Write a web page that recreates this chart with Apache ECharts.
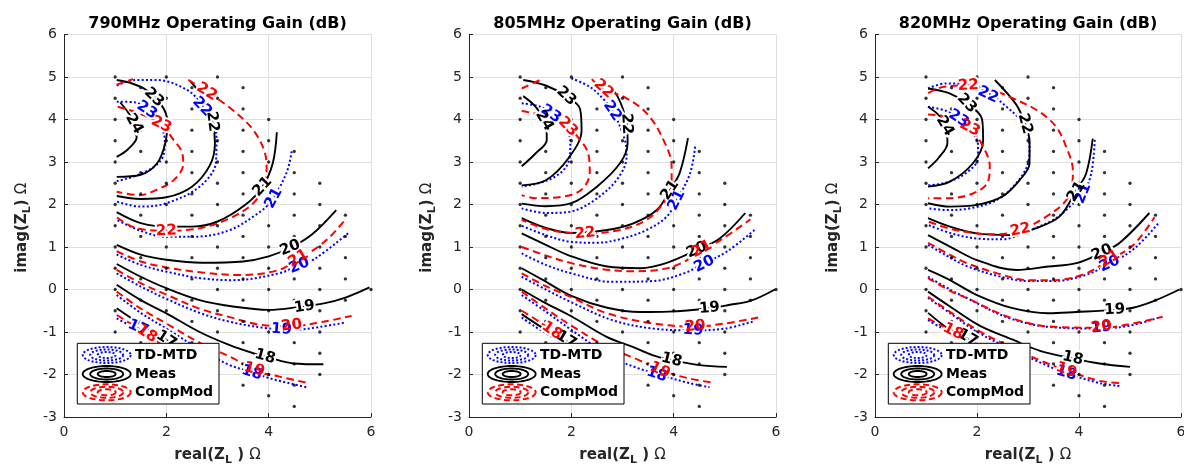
<!DOCTYPE html>
<html><head><meta charset="utf-8">
<script src="https://cdn.jsdelivr.net/npm/echarts@6.0.0/dist/echarts.min.js"></script>
<style>html,body{margin:0;padding:0;background:#fff}#c{width:1184px;height:467px}</style>
</head><body><div id="c"></div>
<script>
// ---------------- DATA ----------------
const titles = ['790MHz Operating Gain (dB)', '805MHz Operating Gain (dB)', '820MHz Operating Gain (dB)'];
const legendNames = ['TD-MTD', 'Meas', 'CompMod'];

// measurement load points: [real, [imag values]]
const dotColumns = [
  [1.0, [5, 4.5, 4, 3.5, 3, 2.5, 2, 1.5, 1, 0.5, 0, -0.5, -1]],
  [1.5, [4.75, 4.25, 3.75, 3.25, 2.75, 2.25, 1.75, 1.25, 0.75, 0.25, -0.25, -0.75, -1.25]],
  [2.0, [5, 4.5, 4, 3.5, 3, 2.5, 2, 1.5, 1, 0.5, 0, -0.5, -1, -1.5]],
  [2.5, [4.75, 4.25, 3.75, 3.25, 2.75, 2.25, 1.75, 1.25, 0.75, 0.25, -0.25, -0.75, -1.25, -1.75]],
  [3.0, [5, 4.5, 4, 3.5, 3, 2.5, 2, 1.5, 1, 0.5, 0, -0.5, -1, -1.5, -2]],
  [3.5, [4.75, 4.25, 3.75, 3.25, 2.75, 2.25, 1.75, 1.25, 0.75, 0.25, -0.25, -0.75, -1.25, -1.75, -2.25]],
  [4.0, [4, 3.5, 3, 2.5, 2, 1.5, 1, 0.5, 0, -0.5, -1, -1.5, -2, -2.5]],
  [4.5, [3.25, 2.75, 2.25, 1.75, 1.25, 0.75, 0.25, -0.25, -0.75, -1.25, -1.75, -2.25, -2.75]],
  [5.0, [2.5, 2, 1.5, 1, 0.5, 0, -0.5, -1, -1.5, -2]],
  [5.5, [1.75, 1.25, 0.75, 0.25, -0.25]],
  [6.0, [0]]
];

// contour entries: [level, points, label points]
// ---- 790 MHz ----
const meas790 = [
  [24, [[1.03,3.12],[1.25,3.3],[1.42,3.58],[1.38,3.9],[1.25,4.17],[1.1,4.4]], [[1.37,3.9]]],
  [23, [[1.03,2.65],[1.5,2.7],[1.82,2.97],[1.98,3.45],[2.02,3.95],[1.9,4.35],[1.6,4.7],[1.3,4.86],[1.03,4.93]], [[1.76,4.52]]],
  [22, [[1.03,2.2],[1.5,2.13],[2.0,2.17],[2.5,2.42],[2.85,2.92],[2.95,3.45],[2.9,3.95],[2.72,4.5],[2.47,4.9]], [[2.9,3.95]]],
  [21, [[1.03,1.82],[1.5,1.56],[2.0,1.48],[2.5,1.48],[3.0,1.6],[3.55,2.0],[3.88,2.42],[4.08,2.97],[4.16,3.7]], [[3.88,2.42]]],
  [20, [[1.03,1.05],[1.5,0.82],[2.0,0.7],[2.7,0.63],[3.5,0.66],[4.0,0.78],[4.45,1.0],[4.85,1.3],[5.32,1.87]], [[4.42,0.98]]],
  [19, [[1.03,0.6],[1.5,0.3],[2.0,0.03],[2.65,-0.25],[3.3,-0.4],[4.0,-0.48],[4.6,-0.41],[5.1,-0.32],[5.5,-0.19],[5.97,0.05]], [[4.7,-0.41]]],
  [18, [[1.03,0.11],[1.5,-0.25],[2.0,-0.56],[2.65,-1.0],[3.24,-1.31],[3.7,-1.5],[4.0,-1.6],[4.48,-1.74],[5.07,-1.76]], [[3.93,-1.58]]],
  [17, [[1.03,-0.44],[1.5,-0.82],[1.95,-1.15],[2.4,-1.5],[2.8,-1.85]], [[2.0,-1.18]]]
];
const td790 = [
  [23, [[1.03,4.42],[1.4,4.4],[1.65,4.2],[1.85,3.95],[1.97,3.5],[1.9,3.05],[1.5,2.72],[1.03,2.55]], [[1.62,4.22]]],
  [22, [[1.03,4.8],[1.4,4.93],[1.8,4.93],[2.4,4.7],[2.72,4.3],[2.98,3.6],[2.97,3.0],[2.65,2.42],[2.0,2.03],[1.5,1.95],[1.03,2.07]], [[2.7,4.3]]],
  [21, [[4.45,3.25],[4.35,2.75],[4.06,2.1],[3.8,1.8],[3.2,1.38],[2.5,1.24],[2.0,1.24],[1.5,1.38],[1.03,1.64]], [[4.1,2.15]]],
  [20, [[1.03,0.82],[1.5,0.58],[2.0,0.42],[2.7,0.26],[3.3,0.22],[4.2,0.38],[4.6,0.58],[4.9,0.72],[5.58,1.35]], [[4.6,0.56]]],
  [19, [[1.03,0.38],[1.5,0.07],[2.0,-0.22],[2.65,-0.55],[3.24,-0.76],[3.96,-0.91],[4.5,-0.95],[5.0,-0.88],[5.49,-0.78]], [[4.25,-0.94]]],
  [18, [[1.03,-0.13],[1.5,-0.55],[2.0,-0.92],[2.65,-1.4],[3.24,-1.78],[3.7,-1.95],[4.02,-2.09],[4.74,-2.3]], [[3.67,-1.96]]],
  [17, [[1.03,-0.68],[1.25,-0.82],[1.5,-0.95],[1.8,-1.2],[2.2,-1.55]], [[1.45,-0.9]]]
];
const cm790 = [
  [23, [[1.05,4.3],[1.45,4.15],[1.9,3.88],[2.14,3.52],[2.3,3.25],[2.33,2.95],[2.15,2.58],[1.8,2.34],[1.48,2.22],[1.03,2.3]], [[1.9,3.88]]],
  [22, [[1.03,4.82],[1.35,4.95]], []],
  [22, [[2.43,4.93],[2.8,4.65],[3.3,4.22],[3.7,3.75],[3.93,3.2],[3.96,2.8],[3.9,2.42],[3.7,2.03],[3.3,1.71],[2.8,1.48],[2.4,1.4],[2.0,1.38],[1.4,1.45],[1.03,1.7]], [[2.79,4.65],[2.0,1.38]]],
  [21, [[1.03,0.9],[1.5,0.66],[2.0,0.52],[2.7,0.4],[3.47,0.34],[4.2,0.46],[4.58,0.72],[4.9,0.95],[5.2,1.24],[5.5,1.65]], [[4.58,0.73]]],
  [20, [[1.03,0.46],[1.5,0.15],[2.0,-0.12],[2.65,-0.45],[3.24,-0.65],[3.9,-0.84],[4.45,-0.86],[5.07,-0.76],[5.62,-0.62]], [[4.45,-0.85]]],
  [19, [[1.03,-0.05],[1.5,-0.45],[2.0,-0.8],[2.65,-1.25],[3.31,-1.62],[3.7,-1.9],[4.21,-2.05],[4.8,-2.21]], [[3.72,-1.88]]],
  [18, [[1.03,-0.6],[1.3,-0.8],[1.6,-1.03],[2.0,-1.35],[2.5,-1.7]], [[1.62,-1.04]]]
];

// ---- 805 MHz ----
const meas805 = [
  [24, [[1.03,2.9],[1.3,3.2],[1.52,3.52],[1.5,3.9],[1.3,4.3],[1.06,4.55]], [[1.47,3.97]]],
  [23, [[1.03,2.45],[1.5,2.57],[1.95,3.1],[2.2,3.75],[2.17,4.25],[1.9,4.55],[1.5,4.8],[1.06,4.93]], [[1.9,4.55]]],
  [22, [[1.03,2.02],[1.5,1.96],[2.0,2.03],[2.5,2.42],[2.95,2.97],[3.1,3.45],[3.08,3.9],[2.9,4.55],[2.62,4.93]], [[3.08,3.9]]],
  [21, [[1.03,1.68],[1.5,1.45],[2.0,1.33],[2.7,1.4],[3.2,1.55],[3.67,1.87],[3.93,2.34],[4.12,2.75],[4.28,3.56]], [[3.93,2.34]]],
  [20, [[1.03,1.32],[1.45,1.08],[2.0,0.78],[2.7,0.54],[3.35,0.5],[3.85,0.62],[4.45,0.93],[4.9,1.2],[5.4,1.8]], [[4.45,0.93]]],
  [19, [[1.03,0.5],[1.45,0.22],[2.0,-0.15],[2.7,-0.43],[3.35,-0.53],[3.9,-0.52],[4.7,-0.44],[5.1,-0.36],[5.5,-0.27],[5.98,0.0]], [[4.7,-0.44]]],
  [18, [[1.03,0.0],[1.45,-0.29],[2.0,-0.63],[2.7,-1.12],[3.2,-1.35],[3.6,-1.55],[3.96,-1.66],[4.5,-1.78],[5.04,-1.82]], [[3.96,-1.66]]],
  [17, [[1.03,-0.58],[1.5,-0.95],[1.85,-1.17],[2.3,-1.5],[2.8,-1.85]], [[1.9,-1.18]]]
];
const td805 = [
  [23, [[1.03,4.38],[1.4,4.3],[1.62,4.12],[1.88,3.8],[1.98,3.5],[1.97,3.13],[1.84,2.8],[1.5,2.55],[1.03,2.42]], [[1.6,4.13]]],
  [22, [[2.0,4.97],[2.36,4.77],[2.65,4.45],[2.85,4.1],[3.05,3.5],[3.08,3.13],[2.9,2.6],[2.45,2.1],[1.97,1.83],[1.5,1.8],[1.03,1.91]], [[2.8,4.2]]],
  [21, [[4.42,3.36],[4.32,2.73],[4.06,2.1],[3.86,1.71],[3.47,1.4],[3.0,1.2],[2.5,1.1],[2.0,1.12],[1.5,1.28],[1.03,1.5]], [[4.06,2.1]]],
  [20, [[1.03,0.85],[1.5,0.58],[2.0,0.38],[2.8,0.18],[3.6,0.2],[4.2,0.38],[4.6,0.62],[5.05,0.9],[5.58,1.4]], [[4.6,0.6]]],
  [19, [[1.03,0.3],[1.5,0.0],[2.0,-0.3],[2.8,-0.72],[3.6,-0.92],[4.4,-0.96],[5.0,-0.92],[5.56,-0.75]], [[4.38,-0.96]]],
  [18, [[1.03,-0.13],[1.5,-0.52],[2.0,-0.95],[2.8,-1.6],[3.3,-1.85],[3.7,-2.0],[4.3,-2.2],[4.7,-2.3]], [[3.67,-2.0]]],
  [17, [[1.03,-0.66],[1.3,-0.88],[1.6,-1.1],[2.0,-1.4],[2.4,-1.75]], []]
];
const cm805 = [
  [23, [[1.03,4.2],[1.4,4.1],[1.9,3.85],[2.17,3.52],[2.33,3.2],[2.36,2.75],[2.2,2.35],[1.8,2.18],[1.3,2.15],[1.03,2.22]], [[1.93,3.83]]],
  [22, [[1.03,4.73],[1.39,4.93]], []],
  [22, [[2.4,4.95],[2.63,4.7],[3.02,4.54],[3.47,4.15],[3.8,3.52],[3.96,2.89],[3.96,2.42],[3.8,2.03],[3.47,1.64],[2.95,1.4],[2.27,1.32],[1.58,1.4],[1.03,1.64]], [[2.63,4.72],[2.27,1.32]]],
  [21, [[1.03,1.0],[1.5,0.8],[2.0,0.62],[2.6,0.48],[3.2,0.43],[3.8,0.48],[4.2,0.65],[4.55,0.92],[4.9,1.15],[5.5,1.65]], [[4.55,0.95]]],
  [20, [[1.03,0.38],[1.5,0.08],[2.0,-0.18],[2.7,-0.56],[3.6,-0.8],[4.4,-0.87],[5.0,-0.8],[5.65,-0.66]], [[4.42,-0.87]]],
  [19, [[1.03,-0.05],[1.5,-0.45],[2.0,-0.85],[2.7,-1.35],[3.3,-1.65],[3.75,-1.9],[4.25,-2.08],[4.8,-2.2]], [[3.73,-1.9]]],
  [18, [[1.03,-0.5],[1.3,-0.7],[1.62,-0.97],[2.0,-1.3],[2.5,-1.7]], [[1.62,-0.97]]]
];

// ---- 820 MHz ----
const meas820 = [
  [24, [[1.04,2.85],[1.25,3.1],[1.42,3.45],[1.4,3.8],[1.25,4.1],[1.04,4.3]], [[1.37,3.85]]],
  [23, [[1.04,2.42],[1.47,2.54],[1.92,2.97],[2.12,3.5],[2.1,4.0],[1.8,4.38],[1.45,4.62],[1.04,4.73]], [[1.8,4.38]]],
  [22, [[1.04,2.03],[1.47,1.95],[2.0,1.99],[2.5,2.19],[2.84,2.58],[3.03,2.97],[3.03,3.5],[2.94,3.9],[2.77,4.35],[2.35,4.93]], [[2.94,3.9]]],
  [21, [[1.04,1.68],[1.47,1.48],[2.0,1.32],[2.65,1.28],[3.15,1.44],[3.62,1.72],[3.95,2.34],[4.14,2.73],[4.27,3.55]], [[3.95,2.3]]],
  [20, [[1.04,1.28],[1.47,1.01],[2.0,0.69],[2.77,0.46],[3.4,0.54],[3.95,0.62],[4.45,0.87],[4.8,1.1],[5.38,1.8]], [[4.45,0.87]]],
  [19, [[1.04,0.46],[1.47,0.22],[2.0,-0.13],[2.7,-0.44],[3.4,-0.56],[3.95,-0.53],[4.7,-0.48],[5.06,-0.43],[5.45,-0.28],[5.97,0.0]], [[4.7,-0.48]]],
  [18, [[1.04,-0.05],[1.47,-0.4],[2.05,-0.85],[2.7,-1.18],[3.25,-1.45],[3.88,-1.62],[4.4,-1.74],[5.0,-1.82]], [[3.88,-1.62]]],
  [17, [[1.04,-0.55],[1.47,-0.95],[1.8,-1.15],[2.3,-1.5],[2.8,-1.85]], [[1.82,-1.14]]]
];
const td820 = [
  [23, [[1.04,4.3],[1.4,4.2],[1.66,4.0],[1.9,3.7],[2.02,3.4],[2.02,3.1],[1.8,2.75],[1.4,2.52],[1.04,2.45]], [[1.64,4.02]]],
  [22, [[1.04,4.73],[1.4,4.85],[1.8,4.85],[2.25,4.6],[2.58,4.3],[2.9,3.9],[3.03,3.36],[3.0,2.97],[2.77,2.5],[2.38,2.1],[1.86,1.91],[1.4,1.87],[1.04,1.91]], [[2.22,4.58]]],
  [21, [[4.31,3.52],[4.24,2.73],[4.08,2.26],[3.82,1.95],[3.5,1.64],[3.0,1.38],[2.5,1.18],[2.0,1.2],[1.5,1.32],[1.04,1.52]], [[4.08,2.26]]],
  [20, [[1.04,1.05],[1.4,0.8],[1.8,0.55],[2.4,0.32],[3.0,0.2],[3.5,0.2],[4.1,0.33],[4.6,0.6],[5.1,0.98],[5.55,1.55]], [[4.6,0.6]]],
  [19, [[1.04,0.3],[1.5,-0.02],[1.8,-0.2],[2.6,-0.66],[3.4,-0.88],[4.4,-0.92],[5.0,-0.85],[5.6,-0.65]], [[4.44,-0.9]]],
  [18, [[1.04,-0.2],[1.5,-0.58],[2.0,-1.0],[2.7,-1.42],[3.3,-1.75],[3.7,-1.95],[4.4,-2.2],[4.8,-2.27]], [[3.75,-1.97]]],
  [17, [[1.04,-0.72],[1.3,-0.9],[1.55,-1.05],[2.0,-1.4],[2.5,-1.75]], []]
];
const cm820 = [
  [23, [[1.04,4.12],[1.45,4.05],[1.86,3.8],[2.12,3.36],[2.25,2.9],[2.2,2.5],[1.92,2.26],[1.47,2.15],[1.04,2.15]], [[1.86,3.8]]],
  [22, [[1.04,4.62],[1.35,4.77],[1.83,4.8],[2.2,4.73],[2.7,4.5],[3.2,4.2],[3.55,3.83],[3.75,3.35],[3.88,2.8],[3.85,2.35],[3.7,2.03],[3.35,1.71],[2.9,1.42],[2.4,1.3],[2.0,1.32],[1.5,1.42],[1.04,1.6]], [[1.83,4.8],[2.85,1.4]]],
  [21, [[1.04,1.1],[1.4,0.86],[1.8,0.62],[2.4,0.38],[3.0,0.22],[3.5,0.22],[4.1,0.36],[4.6,0.7],[5.06,1.04],[5.48,1.7]], [[4.6,0.72]]],
  [20, [[1.04,0.27],[1.5,-0.05],[1.8,-0.2],[2.6,-0.64],[3.4,-0.87],[4.44,-0.9],[5.06,-0.8],[5.64,-0.64]], [[4.44,-0.88]]],
  [19, [[1.04,-0.17],[1.5,-0.55],[2.0,-0.95],[2.7,-1.38],[3.3,-1.7],[3.75,-1.9],[4.4,-2.15],[4.85,-2.2]], [[3.75,-1.9]]],
  [18, [[1.04,-0.68],[1.3,-0.85],[1.55,-1.0],[2.0,-1.35],[2.5,-1.7]], [[1.53,-0.99]]]
];

// ---------------- LAYOUT / STYLE ----------------
const panels = [
  {td: td790, meas: meas790, cm: cm790},
  {td: td805, meas: meas805, cm: cm805},
  {td: td820, meas: meas820, cm: cm820}
];
const G = [{l: 64, w: 307}, {l: 469, w: 307}, {l: 875, w: 306}];
const TOP = 34.5, H = 382.5;
const FONT = 'DejaVu Sans';
const AX = '#262626';
const models = ['td', 'meas', 'cm'];
const sty = {
  td: {color: '#0000ff', width: 2, type: [2, 2.3]},
  meas: {color: '#000000', width: 1.9, type: 'solid'},
  cm: {color: '#ff0000', width: 2, type: [7.5, 4.5]}
};
const LABEL_SIZE = 15;

const chart = echarts.init(document.getElementById('c'), null, {renderer: 'canvas'});

const grids = [], xAxes = [], yAxes = [], series = [], graphics = [];
const dots = [];
dotColumns.forEach(c => c[1].forEach(y => dots.push([c[0], y])));

G.forEach((g, p) => {
  grids.push({left: g.l, top: TOP, width: g.w, height: H, containLabel: false, outerBoundsMode: 'none'});
  xAxes.push({gridIndex: p, type: 'value', min: 0, max: 6, interval: 2,
    axisLine: {show: true, onZero: false, lineStyle: {color: AX, width: 1}},
    axisTick: {show: true, inside: true, length: 4, lineStyle: {color: AX}},
    axisLabel: {color: AX, fontSize: 14, fontFamily: FONT, margin: 8},
    splitLine: {show: true, lineStyle: {color: '#dfdfdf', width: 1}}});
  yAxes.push({gridIndex: p, type: 'value', min: -3, max: 6, interval: 1,
    axisLine: {show: true, onZero: false, lineStyle: {color: AX, width: 1}},
    axisTick: {show: true, inside: true, length: 4, lineStyle: {color: AX}},
    axisLabel: {color: AX, fontSize: 14, fontFamily: FONT, margin: 7},
    splitLine: {show: true, lineStyle: {color: '#dfdfdf', width: 1}}});

  models.forEach(m => {
    panels[p][m].forEach((c, k) => {
      series.push({type: 'line', id: `l-${p}-${m}-${k}`, xAxisIndex: p, yAxisIndex: p, data: c[1],
        symbol: 'none', showSymbol: false, smooth: 0.35, silent: true, z: 2,
        lineStyle: {color: sty[m].color, width: sty[m].width, type: sty[m].type}});
    });
  });
  series.push({type: 'scatter', xAxisIndex: p, yAxisIndex: p, data: dots, symbol: 'circle', symbolSize: 3.3,
    itemStyle: {color: '#000'}, silent: true, z: 3});

  const cx = g.l + g.w / 2;
  graphics.push({type: 'text', x: cx, y: 24, style: {text: titles[p], font: `bold 16px "${FONT}"`, fill: '#000',
    align: 'center', verticalAlign: 'middle', textAlign: 'center', textVerticalAlign: 'middle'}});
  graphics.push({type: 'text', x: cx, y: 455, style: {
    text: '{b|real(Z}{s|L}{b| ) }{o|Ω}', align: 'center', verticalAlign: 'middle', textAlign: 'center', textVerticalAlign: 'middle',
    rich: {
      b: {fontFamily: FONT, fontSize: 15, fontWeight: 'bold', fill: AX, color: AX, lineHeight: 22, verticalAlign: 'middle'},
      s: {fontFamily: FONT, fontSize: 11, fontWeight: 'bold', fill: AX, color: AX, lineHeight: 11, verticalAlign: 'bottom'},
      o: {fontFamily: FONT, fontSize: 15, fill: AX, color: AX, lineHeight: 22, verticalAlign: 'middle'}
    }}});
  graphics.push({type: 'text', x: g.l - 42, y: TOP + H / 2 + 2, rotation: Math.PI / 2, style: {
    text: '{b|imag(Z}{s|L}{b|) }{o|Ω}', align: 'center', verticalAlign: 'middle', textAlign: 'center', textVerticalAlign: 'middle',
    rich: {
      b: {fontFamily: FONT, fontSize: 15, fontWeight: 'bold', fill: AX, color: AX, lineHeight: 22, verticalAlign: 'middle'},
      s: {fontFamily: FONT, fontSize: 11, fontWeight: 'bold', fill: AX, color: AX, lineHeight: 11, verticalAlign: 'bottom'},
      o: {fontFamily: FONT, fontSize: 15, fill: AX, color: AX, lineHeight: 22, verticalAlign: 'middle'}
    }}});

  // legend box
  const L = g.l + 13.3, T = 343.3, W = 141.7, HH = 60.7;
  graphics.push({type: 'rect', z: 50, shape: {x: L, y: T, width: W, height: HH}, style: {fill: '#fff', stroke: '#000', lineWidth: 1}});
  const rowsY = [11.7, 30.7, 49];
  const rings = [[24, 8], [16.5, 5.5], [9, 3]];
  models.forEach((m, r) => {
    const icx = L + 29.4, icy = T + rowsY[r];
    rings.forEach(rr => {
      const pts = [];
      for (let a = 0; a <= 64; a++) {
        const t = a / 64 * Math.PI * 2;
        pts.push([icx + rr[0] * Math.cos(t), icy + rr[1] * Math.sin(t)]);
      }
      graphics.push({type: 'polyline', z: 51, shape: {points: pts}, style: {fill: null, stroke: sty[m].color,
        lineWidth: m === 'meas' ? 1.9 : 2, lineDash: m === 'td' ? [2, 2] : (m === 'cm' ? [6, 3.5] : null)}});
    });
    graphics.push({type: 'text', z: 52, x: L + 57.7, y: icy, style: {text: legendNames[r], font: `bold 14px "${FONT}"`,
      fill: '#000', align: 'left', verticalAlign: 'middle', textAlign: 'left', textVerticalAlign: 'middle'}});
  });
});

chart.setOption({animation: false, backgroundColor: '#fff', grid: grids, xAxis: xAxes, yAxis: yAxes, series, graphic: graphics});

// contour labels: placed through the axes' own scale (convertToPixel), rotated along the contour
function angleAt(p, pts, lp) {
  const P = pts.map(q => chart.convertToPixel({gridIndex: p}, q));
  const Lp = chart.convertToPixel({gridIndex: p}, lp);
  let best = Infinity, ang = 0;
  for (let i = 0; i < P.length - 1; i++) {
    const a = P[i], b = P[i + 1];
    const dx = b[0] - a[0], dy = b[1] - a[1];
    const len2 = dx * dx + dy * dy || 1;
    let t = ((Lp[0] - a[0]) * dx + (Lp[1] - a[1]) * dy) / len2;
    t = Math.max(0, Math.min(1, t));
    const ex = a[0] + t * dx - Lp[0], ey = a[1] + t * dy - Lp[1];
    const d = ex * ex + ey * ey;
    if (d < best) { best = d; ang = Math.atan2(-dy, dx); }
  }
  while (ang > Math.PI / 2) ang -= Math.PI;
  while (ang < -Math.PI / 2) ang += Math.PI;
  return ang;
}

const halos = [], texts = [];
G.forEach((g, p) => {
  models.forEach(m => {
    panels[p][m].forEach(c => c[2].forEach(lp => {
      const px = chart.convertToPixel({gridIndex: p}, lp);
      const rot = angleAt(p, c[1], lp);
      const font = `bold ${LABEL_SIZE}px "${FONT}"`;
      halos.push({type: 'text', z: 20, x: px[0], y: px[1], rotation: rot, silent: true,
        style: {text: String(c[0]), font, fill: '#fff', stroke: '#fff', lineWidth: 4,
          align: 'center', verticalAlign: 'middle', textAlign: 'center', textVerticalAlign: 'middle'}});
      texts.push({type: 'text', z: 30, x: px[0], y: px[1], rotation: rot, silent: true,
        style: {text: String(c[0]), font, fill: sty[m].color,
          align: 'center', verticalAlign: 'middle', textAlign: 'center', textVerticalAlign: 'middle'}});
    }));
  });
});
chart.setOption({graphic: graphics.concat(halos, texts)});
</script></body></html>
